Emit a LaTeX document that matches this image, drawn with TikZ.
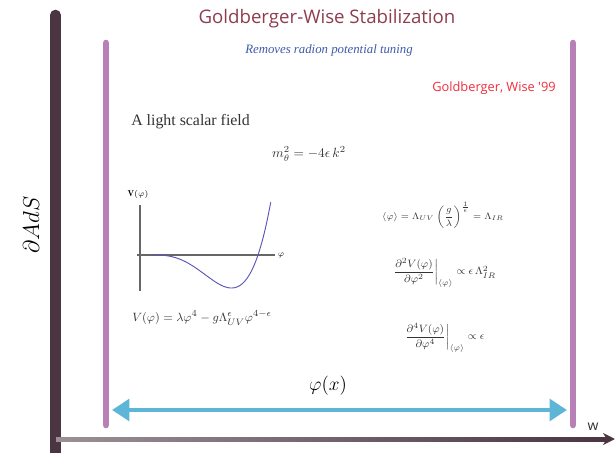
\documentclass[tikz,border=0pt]{standalone}
\usepackage{fontspec}
\usepackage{amsmath}
\newfontfamily\opensans{Open Sans}
\newfontfamily\libserif{Liberation Serif}
\usetikzlibrary{arrows.meta}
\definecolor{barDark}{HTML}{4A3541}
\definecolor{barPurple}{HTML}{B781B8}
\definecolor{arrowCyan}{HTML}{5DB6D8}
\definecolor{titleCol}{HTML}{8E3D50}
\definecolor{subCol}{HTML}{3D5AA8}
\definecolor{refRed}{HTML}{F02D3C}
\definecolor{curveCol}{HTML}{5A55B8}
\tikzset{
  brane/.style={line width=5pt, color=barPurple, line cap=round},
  bulkbar/.style={line width=8pt, color=barDark, line cap=round},
  txt/.style={inner sep=0pt, anchor=center},
  mathtxt/.style={inner sep=0pt, anchor=center, text=black!80},
}
\begin{document}
\begin{tikzpicture}[x=0.75pt,y=-0.75pt]
\useasboundingbox (0,0) rectangle (615,453);
% bulk boundary bar
\coordinate (bt) at (55.5,15);
\coordinate (bb) at (55.5,465);
\draw[bulkbar] (bt) -- (bb);
% horizontal axis with gradient
\shade[left color=barDark!55, right color=barDark] (56,437) rectangle (606,441);
\coordinate (hx0) at (604,439);
\coordinate (hx1) at (615,439);
\draw[barDark, line width=2.8pt, -{Stealth[length=9pt,width=9pt]}] (hx0) -- (hx1);
\node[txt, text=black!80, font=\opensans\fontsize{10.5}{12}\selectfont] (wlab) at (593,427) {w};
% branes
\coordinate (lt) at (106,43);
\coordinate (lb) at (106,425);
\coordinate (rt) at (573,43);
\coordinate (rb) at (573,425);
\draw[brane] (lt) -- (lb);
\draw[brane] (rt) -- (rb);
% cyan arrow
\coordinate (al) at (112,410);
\coordinate (ar) at (567,410);
\draw[arrowCyan, line width=3.5pt, {Triangle[length=13pt,width=16pt]}-{Triangle[length=13pt,width=16pt]}] (al) -- (ar);
\node[txt, font=\fontsize{15}{16}\selectfont] (phix) at (328,386) {$\varphi(x)$};
% AdS label
\node[txt, rotate=90, font=\fontsize{18}{19}\selectfont] (ads) at (31,225) {$\partial AdS$};
% titles
\node[txt, text=titleCol, font=\opensans\fontsize{14}{16}\selectfont] (title) at (327,19) {Goldberger-Wise Stabilization};
\node[txt, text=subCol, font=\libserif\itshape\fontsize{9.6}{11}\selectfont] (sub) at (329,50) {Removes radion potential tuning};
\node[txt, text=refRed, font=\opensans\fontsize{9.6}{11}\selectfont] (ref) at (494,88) {Goldberger, Wise '99};
% text
\node[txt, anchor=west, text=black!80, font=\libserif\fontsize{11.9}{13}\selectfont] (light) at (131,122) {A light scalar field};
\node[mathtxt, font=\fontsize{10.2}{12}\selectfont] (mass) at (309,154) {$m_\theta^2 = -4\epsilon\, k^2$};
% potential plot
\coordinate (vy0) at (140,291);
\coordinate (vy1) at (140,205);
\coordinate (vx0) at (137,255);
\coordinate (vx1) at (275,255);
\draw[black!60, line width=0.8pt] (vy0) -- (vy1);
\draw[black!60, line width=0.8pt] (vx0) -- (vx1);
\node[txt, font=\fontsize{6.5}{7}\selectfont] (vlab) at (138,195) {$\mathbf{V}(\varphi)$};
\node[txt, font=\fontsize{6}{7}\selectfont] (plab) at (281,256) {$\varphi$};
\draw[curveCol, line width=0.7pt, domain=0:1.12, samples=80, smooth, variable=\t]
  plot ({152+106*\t},{255-313*(\t*\t*\t*\t-\t*\t*\t)});
\node[mathtxt, anchor=west, font=\fontsize{9.4}{11}\selectfont] (vform) at (132,318) {$V(\varphi) = \lambda\varphi^4 - g\Lambda_{UV}^{\epsilon}\varphi^{4-\epsilon}$};
% right formulas
\node[mathtxt, font=\fontsize{7}{9}\selectfont] (vev) at (443,215) {$\langle\varphi\rangle = \Lambda_{UV}\left(\dfrac{g}{\lambda}\right)^{\frac{1}{\epsilon}} = \Lambda_{IR}$};
\node[mathtxt, font=\fontsize{8.1}{10}\selectfont] (d2) at (444,273) {$\left.\dfrac{\partial^2 V(\varphi)}{\partial\varphi^2}\right|_{\langle\varphi\rangle} \propto \epsilon\,\Lambda_{IR}^2$};
\node[mathtxt, font=\fontsize{8.3}{10}\selectfont] (d4) at (444,338) {$\left.\dfrac{\partial^4 V(\varphi)}{\partial\varphi^4}\right|_{\langle\varphi\rangle} \propto \epsilon$};
\end{tikzpicture}
\end{document}
